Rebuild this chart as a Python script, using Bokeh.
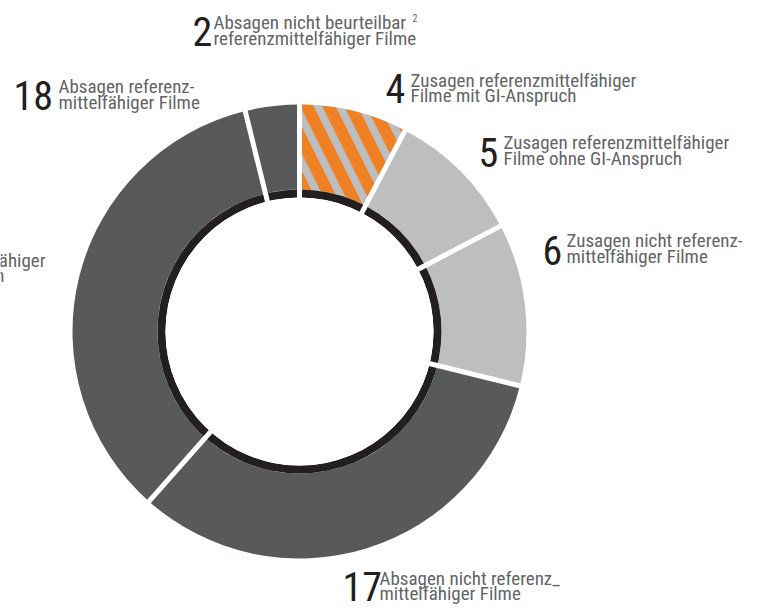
import numpy as np
from bokeh.plotting import figure
from bokeh.models import ColumnDataSource, Range1d
from bokeh.core.properties import value
from bokeh.embed import file_html
from bokeh.resources import INLINE

# ---- data ----
counts = [4, 5, 6, 17, 18, 2]
line1 = ["Zusagen referenzmittelfähiger", "Zusagen referenzmittelfähiger",
         "Zusagen nicht referenz-", "Absagen nicht referenz_",
         "Absagen referenz-", "Absagen nicht beurteilbar"]
line2 = ["Filme mit GI-Anspruch", "Filme ohne GI-Anspruch",
         "mittelfähiger Filme", "mittelfähiger Filme",
         "mittelfähiger Filme", "referenzmittelfähiger Filme"]
colors = ["#bcbec0", "#bcbec0", "#bcbec0", "#58595b", "#58595b", "#58595b"]
hatched = [True, False, False, False, False, False]

# ---- layout (page pixels) ----
W, H = 763, 608
def X(px): return px
def Y(py): return H - py

cx, cy = X(299), Y(331)
R_OUT, R_RING, R_IN = 227, 142, 134

NUM_SIZE, TXT_SIZE = 40, 19
def Yt(py, size):  # compensate text box descent so py is the visible baseline
    return Y(py - 0.37 * size)

num_pos = [(385, 103), (478, 167), (542, 265), (342, 601), (13, 110), (192, 46)]
txt_pos = [(410, 87, 102), (503, 149, 165), (566, 247, 263), (379, 585, 600),
           (58, 93, 109), (213, 29, 45)]

FONT = value("Roboto Condensed, DejaVu Sans Condensed, Roboto")

total = sum(counts)
cum = np.cumsum([0] + counts)
start = np.pi / 2 - 2 * np.pi * cum[:-1] / total
end = np.pi / 2 - 2 * np.pi * cum[1:] / total

p = figure(width=W, height=H, output_backend="svg", toolbar_location=None,
           x_range=Range1d(0, W), y_range=Range1d(0, H),
           min_border=0, outline_line_color=None)
p.axis.visible = False
p.grid.visible = False
p.background_fill_color = "white"
p.border_fill_color = "white"

src = ColumnDataSource(dict(x=[cx] * len(counts), y=[cy] * len(counts),
                            start=start, end=end, color=colors))
p.annular_wedge(x="x", y="y", inner_radius=R_RING, outer_radius=R_OUT,
                start_angle="start", end_angle="end", direction="clock",
                fill_color="color", line_color=None, source=src)

hidx = [i for i, h in enumerate(hatched) if h]
hsrc = ColumnDataSource(dict(x=[cx] * len(hidx), y=[cy] * len(hidx),
                             start=[start[i] for i in hidx], end=[end[i] for i in hidx]))
p.annular_wedge(x="x", y="y", inner_radius=R_RING, outer_radius=R_OUT,
                start_angle="start", end_angle="end", direction="clock",
                fill_color="#bcbec0", line_color=None,
                hatch_pattern="left_diagonal_line", hatch_color="#ef8124",
                hatch_scale=44, hatch_weight=12, source=hsrc)

# black inner ring
p.annulus(x=[cx], y=[cy], inner_radius=R_IN, outer_radius=R_RING,
          fill_color="#231f20", line_color=None)

# white separators
p.ray(x=[cx] * len(counts), y=[cy] * len(counts), length=R_OUT + 10,
      length_units="data", angle=list(start), line_color="white", line_width=5)
p.circle(x=[cx], y=[cy], radius=R_IN, fill_color="white", line_color=None)

# labels
nsrc = ColumnDataSource(dict(x=[X(a) for a, b in num_pos],
                             y=[Yt(b, NUM_SIZE) for a, b in num_pos],
                             t=[str(c) for c in counts]))
p.text(x="x", y="y", text="t", source=nsrc, text_font=FONT,
       text_font_size=f"{NUM_SIZE}px", text_color="#231f20",
       text_baseline="alphabetic", text_align="left")
l1 = ColumnDataSource(dict(x=[X(a) for a, b, c in txt_pos],
                           y=[Yt(b, TXT_SIZE) for a, b, c in txt_pos], t=line1))
l2 = ColumnDataSource(dict(x=[X(a) for a, b, c in txt_pos],
                           y=[Yt(c, TXT_SIZE) for a, b, c in txt_pos], t=line2))
for s in (l1, l2):
    p.text(x="x", y="y", text="t", source=s, text_font=FONT,
           text_font_size=f"{TXT_SIZE}px", text_color="#636466",
           text_baseline="alphabetic", text_align="left")

# superscript footnote mark
p.text(x=[X(412)], y=[Yt(21, 10)], text=["2"], text_font=FONT, text_font_size="10px",
       text_color="#636466", text_baseline="alphabetic")

# cut-off label at left edge (the reference shows it cropped)
p.text(x=[X(45), X(4)], y=[Yt(267, TXT_SIZE), Yt(282, TXT_SIZE)],
       text=["Absagen referenzmittelfähiger", "Filme ohne Zahlungen"],
       text_font=FONT, text_font_size=f"{TXT_SIZE}px", text_color="#636466",
       text_baseline="alphabetic", text_align="right")

open("out.html", "w").write(file_html(p, INLINE))
